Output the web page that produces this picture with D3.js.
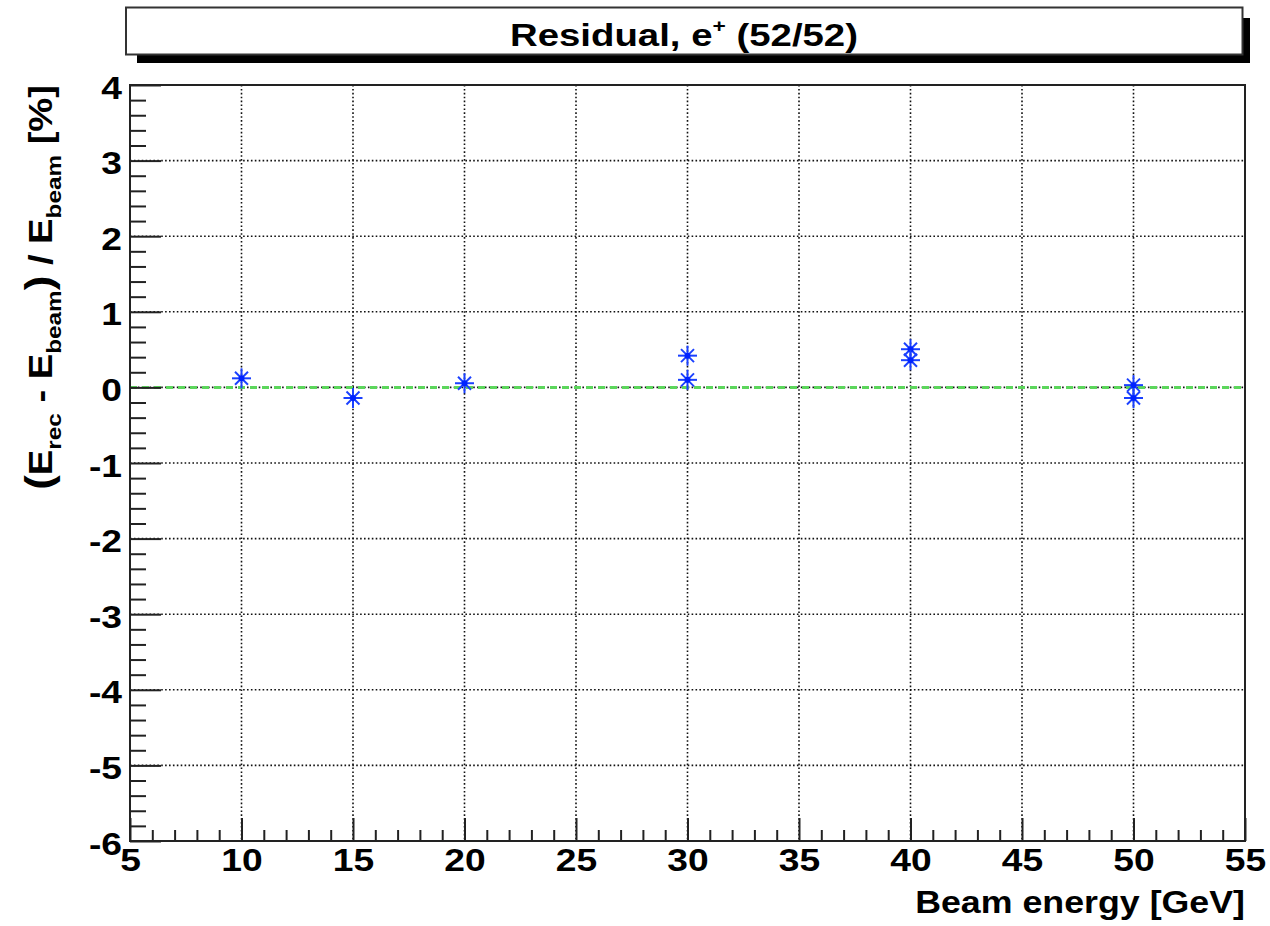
<!DOCTYPE html>
<html>
<head>
<meta charset="utf-8">
<script src="https://cdn.jsdelivr.net/npm/d3@7"></script>
<style>
  html, body { margin: 0; padding: 0; background: #fff; }
  svg { display: block; font-family: "Liberation Sans", Arial, Helvetica, sans-serif; font-weight: bold; }
</style>
</head>
<body>
<svg id="chart" width="1270" height="926"></svg>
<script>
// ---- data ----
const energies  = [10, 15, 20, 30, 30, 40, 40, 50, 50];
const residuals = [0.12, -0.14, 0.055, 0.42, 0.10, 0.505, 0.36, 0.03, -0.14];
const xTicks = [5, 10, 15, 20, 25, 30, 35, 40, 45, 50, 55];
const yTicks = [-6, -5, -4, -3, -2, -1, 0, 1, 2, 3, 4];
const xDomain = [5, 55];
const yDomain = [-6, 4];
const titleText = "Residual, e";
const titleSup = "+";
const titleRest = " (52/52)";
const xTitle = "Beam energy [GeV]";

// ---- layout ----
const L = 130, R = 1245, T = 85, B = 841;
const svg = d3.select("#chart");
const x = d3.scaleLinear().domain(xDomain).range([L, R]);
const y = d3.scaleLinear().domain(yDomain).range([B, T]);

// horizontally stretch a text element about its anchor x, so its width equals w (or factor s)
function stretch(sel, ax, ay, opts) {
  sel.each(function () {
    const node = this;
    const bb = node.getBBox();
    const s = opts.width ? opts.width / bb.width : opts.scale;
    const cx = ax !== undefined ? ax : +node.getAttribute("x") || 0;
    const prev = node.getAttribute("transform") || "";
    node.setAttribute("transform", `${prev} translate(${cx},0) scale(${s},1) translate(${-cx},0)`);
  });
}

// title box with shadow
svg.append("rect").attr("x", 137).attr("y", 18).attr("width", 1250 - 137).attr("height", 63 - 18).attr("fill", "#000");
svg.append("rect").attr("x", 126).attr("y", 7.5).attr("width", 1242.5 - 126).attr("height", 54.5 - 7.5)
  .attr("fill", "#fff").attr("stroke", "#333").attr("stroke-width", 2);
const tt = svg.append("text").attr("x", 684).attr("y", 46).attr("text-anchor", "middle")
  .attr("font-size", 32).attr("fill", "#000");
tt.append("tspan").text(titleText);
tt.append("tspan").text(titleSup).attr("font-size", 19).attr("dy", -14);
tt.append("tspan").text(titleRest).attr("dy", 14);
stretch(tt, 684, 0, { width: 348 });

// grid
const grid = svg.append("g").attr("stroke", "#111").attr("stroke-width", 1.6).attr("stroke-dasharray", "1.6,2.3");
grid.selectAll("line.gx").data(xTicks.filter(v => v > xDomain[0] && v < xDomain[1])).join("line")
  .attr("x1", d => x(d)).attr("x2", d => x(d)).attr("y1", T).attr("y2", B);
grid.selectAll("line.gy").data(yTicks.filter(v => v > yDomain[0] && v < yDomain[1])).join("line")
  .attr("x1", L).attr("x2", R).attr("y1", d => y(d)).attr("y2", d => y(d));

// zero reference line
svg.append("line").attr("x1", L).attr("x2", R).attr("y1", y(0)).attr("y2", y(0))
  .attr("stroke", "#5cd65c").attr("stroke-width", 3).attr("stroke-dasharray", "7,5");

// axes: minor + major ticks (ROOT style, inward)
const xMinor = d3.range(xDomain[0], xDomain[1] + 0.001, 1).filter(v => !xTicks.includes(v));
const yMinor = d3.range(0, 51).map(i => +(yDomain[0] + i * 0.2).toFixed(2)).filter(v => Math.abs(v - Math.round(v)) > 1e-6);

const fmt = d => String(d);
const xAxisMajor = d3.axisBottom(x).tickValues(xTicks).tickSizeInner(-23).tickSizeOuter(0).tickPadding(8).tickFormat(fmt);
const xAxisMinor = d3.axisBottom(x).tickValues(xMinor).tickSizeInner(-11).tickSizeOuter(0).tickFormat("");
const yAxisMajor = d3.axisLeft(y).tickValues(yTicks).tickSizeInner(-31).tickSizeOuter(0).tickPadding(8).tickFormat(fmt);
const yAxisMinor = d3.axisLeft(y).tickValues(yMinor).tickSizeInner(-16).tickSizeOuter(0).tickFormat("");

function styleAxis(g) {
  g.select(".domain").remove();
  g.selectAll("line").attr("stroke", "#222").attr("stroke-width", 2);
  g.selectAll("text").attr("font-size", 31).attr("font-weight", "bold").attr("fill", "#000")
    .attr("font-family", '"Liberation Sans", Arial, sans-serif');
}
svg.append("g").attr("transform", `translate(0,${B})`).call(xAxisMinor).call(styleAxis);
const gx = svg.append("g").attr("transform", `translate(0,${B})`).call(xAxisMajor).call(styleAxis);
gx.selectAll("text").attr("dy", "0.72em");
stretch(gx.selectAll("text"), 0, 0, { scale: 1.2 });
svg.append("g").attr("transform", `translate(${L},0)`).call(yAxisMinor).call(styleAxis);
const gy = svg.append("g").attr("transform", `translate(${L},0)`).call(yAxisMajor).call(styleAxis);
gy.selectAll("text").attr("dy", "0.42em");
stretch(gy.selectAll("text"), -8, 0, { scale: 1.2 });

// frame
svg.append("rect").attr("x", L).attr("y", T).attr("width", R - L).attr("height", B - T)
  .attr("fill", "none").attr("stroke", "#222").attr("stroke-width", 2);

// markers (asterisk)
const pts = energies.map((e, i) => ({ e, r: residuals[i] }));
const mk = svg.append("g").attr("stroke", "#1a40ff").attr("stroke-width", 2).attr("fill", "#0022ff");
const mg = mk.selectAll("g").data(pts).join("g").attr("transform", d => `translate(${x(d.e)},${y(d.r)})`);
mg.append("line").attr("x1", -9.5).attr("x2", 9.5).attr("y1", 0).attr("y2", 0);
mg.append("line").attr("x1", 0).attr("x2", 0).attr("y1", -10).attr("y2", 10);
mg.append("line").attr("x1", -6.5).attr("x2", 6.5).attr("y1", -6.5).attr("y2", 6.5);
mg.append("line").attr("x1", -6.5).attr("x2", 6.5).attr("y1", 6.5).attr("y2", -6.5);
mg.append("circle").attr("r", 3).attr("stroke", "none");

// axis titles
const xt = svg.append("text").attr("x", R).attr("y", 913).attr("text-anchor", "end").attr("font-size", 31).attr("fill", "#000").text(xTitle);
stretch(xt, R, 0, { width: 330 });

const ytg = svg.append("g").attr("transform", `translate(52,85) rotate(-90)`);
const yt = ytg.append("text").attr("x", 0).attr("y", 0).attr("text-anchor", "end")
  .attr("font-size", 33).attr("fill", "#000");
yt.append("tspan").text("(").attr("font-size", 38);
yt.append("tspan").text("E");
yt.append("tspan").text("rec").attr("font-size", 21).attr("dy", 9);
yt.append("tspan").text(" - E").attr("dy", -9);
yt.append("tspan").text("beam").attr("font-size", 21).attr("dy", 9);
yt.append("tspan").text(")").attr("font-size", 38).attr("dy", -9);
yt.append("tspan").text(" / E");
yt.append("tspan").text("beam").attr("font-size", 21).attr("dy", 9);
yt.append("tspan").text(" [%]").attr("dy", -9);
stretch(yt, 0, 0, { width: 405 });
</script>
</body>
</html>
